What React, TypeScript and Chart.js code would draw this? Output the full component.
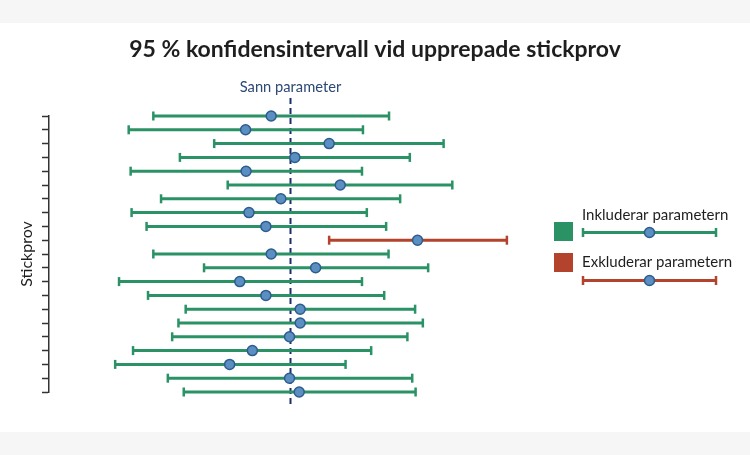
import React, { useEffect, useRef } from 'react';
import { Chart, registerables } from 'chart.js';

Chart.register(...registerables);

const TITLE = '95 % konfidensintervall vid upprepade stickprov';
const Y_TITLE = 'Stickprov';
const TRUE_LABEL = 'Sann parameter';
const LEGEND_LABELS = ['Inkluderar parametern', 'Exkluderar parametern'];
const TRUE_PARAM = 50;
const SAMPLES = [1, 2, 3, 4, 5, 6, 7, 8, 9, 10, 11, 12, 13, 14, 15, 16, 17, 18, 19, 20, 21];
const LOWER = [21.6, 16.5, 34.2, 27.1, 16.9, 37.0, 23.2, 17.1, 20.2, 58.0, 21.6, 32.1, 14.5, 20.5, 28.3, 26.8, 25.5, 17.4, 13.7, 24.6, 27.9];
const UPPER = [70.4, 65.0, 81.7, 74.7, 64.8, 83.5, 72.7, 65.8, 69.8, 94.8, 70.3, 78.5, 64.8, 69.4, 75.8, 77.4, 74.2, 66.7, 61.4, 75.2, 75.9];
const ESTIMATE = [46.0, 40.7, 58.0, 50.9, 40.8, 60.3, 48.0, 41.4, 44.9, 76.3, 46.0, 55.2, 39.5, 44.9, 52.0, 52.0, 49.8, 42.1, 37.4, 49.8, 51.8];

const GREEN = '#2a9264';
const RED = '#b3432c';
const POINT_FILL = '#5b8ec1';
const POINT_BORDER = '#2d5d8e';
const NAVY = '#1c2f66';
const TEXT = '#1e1e1e';
const FONT = 'Lato, "Open Sans", sans-serif';

export default function App() {
  const ref = useRef<HTMLCanvasElement | null>(null);

  useEffect(() => {
    if (!ref.current) return;

    const intervalSets = SAMPLES.map((s, i) => {
      const inside = LOWER[i] <= TRUE_PARAM && TRUE_PARAM <= UPPER[i];
      const c = inside ? GREEN : RED;
      return {
        type: 'line' as const,
        data: [
          { x: LOWER[i], y: s },
          { x: UPPER[i], y: s },
        ],
        borderColor: c,
        borderWidth: 3,
        pointStyle: 'line',
        pointRotation: 90,
        pointRadius: 4.5,
        pointBorderWidth: 2.5,
        pointBorderColor: c,
        pointBackgroundColor: c,
        clip: false,
        order: 2,
      };
    });

    const pointSet = {
      type: 'scatter' as const,
      data: SAMPLES.map((s, i) => ({ x: ESTIMATE[i], y: s })),
      pointRadius: 5,
      pointBackgroundColor: POINT_FILL,
      pointBorderColor: POINT_BORDER,
      pointBorderWidth: 1.5,
      clip: false,
      order: 0,
    };

    const overlay = {
      id: 'overlay',
      beforeDatasetsDraw(chart: any) {
        const { ctx, chartArea, scales } = chart;
        const x = scales.x.getPixelForValue(TRUE_PARAM);
        ctx.save();
        ctx.strokeStyle = NAVY;
        ctx.lineWidth = 2;
        ctx.setLineDash([6, 4]);
        ctx.beginPath();
        ctx.moveTo(x, chartArea.top - 18);
        ctx.lineTo(x, chartArea.bottom + 16);
        ctx.stroke();
        ctx.restore();
        ctx.save();
        ctx.fillStyle = '#2b4877';
        ctx.font = `14.7px ${FONT}`;
        ctx.textAlign = 'center';
        ctx.textBaseline = 'middle';
        ctx.fillText(TRUE_LABEL, x, chartArea.top - 29);
        ctx.restore();
      },
      afterDraw(chart: any) {
        const { ctx, chartArea } = chart;
        const colors = [GREEN, RED];
        const base = chartArea.right + 22;
        colors.forEach((c, k) => {
          const top = 199 + k * 31;
          ctx.save();
          ctx.fillStyle = c;
          ctx.fillRect(base, top, 19, 19);
          ctx.fillStyle = TEXT;
          ctx.font = `15px ${FONT}`;
          ctx.textAlign = 'left';
          ctx.textBaseline = 'middle';
          ctx.fillText(LEGEND_LABELS[k], base + 28, top - 7 + k * 16);
          const ly = top + 10.5 + k * 17;
          const x0 = base + 29;
          const x1 = base + 162;
          ctx.strokeStyle = c;
          ctx.lineWidth = 3;
          ctx.beginPath();
          ctx.moveTo(x0, ly);
          ctx.lineTo(x1, ly);
          ctx.stroke();
          ctx.lineWidth = 2.5;
          ctx.beginPath();
          ctx.moveTo(x0, ly - 4.5);
          ctx.lineTo(x0, ly + 4.5);
          ctx.moveTo(x1, ly - 4.5);
          ctx.lineTo(x1, ly + 4.5);
          ctx.stroke();
          ctx.beginPath();
          ctx.arc((x0 + x1) / 2, ly, 5, 0, Math.PI * 2);
          ctx.fillStyle = POINT_FILL;
          ctx.fill();
          ctx.lineWidth = 1.5;
          ctx.strokeStyle = POINT_BORDER;
          ctx.stroke();
          ctx.restore();
        });
      },
    };

    const chart = new Chart(ref.current, {
      type: 'scatter',
      data: { datasets: [pointSet, ...intervalSets] as any },
      options: {
        animation: false,
        responsive: false,
        events: [],
        layout: { padding: { left: 0, right: 0, top: 0, bottom: 40 } },
        plugins: {
          legend: { display: false },
          tooltip: { enabled: false },
          title: {
            display: true,
            text: TITLE,
            color: TEXT,
            font: { family: FONT, size: 23, weight: 'bold' as any },
            padding: { top: 13.2, bottom: 52.2 },
          },
        },
        scales: {
          x: {
            type: 'linear',
            display: false,
            min: 0,
            max: 100,
          },
          y: {
            type: 'linear',
            min: 1,
            max: 21,
            reverse: true,
            afterFit(scale: any) {
              scale.width = 49;
            },
            ticks: { display: false, stepSize: 1 },
            grid: {
              drawOnChartArea: false,
              drawTicks: true,
              tickLength: 7,
              tickWidth: 1.5,
              tickColor: '#333333',
            },
            border: { display: true, color: '#333333', width: 1.5 },
            title: {
              display: true,
              text: Y_TITLE,
              color: TEXT,
              font: { family: FONT, size: 16 },
              padding: { top: 17, bottom: 0 },
            },
          },
          legendSpace: {
            type: 'linear',
            position: 'right',
            display: true,
            min: 0,
            max: 1,
            afterFit(scale: any) {
              scale.width = 218;
            },
            ticks: { display: false },
            grid: { display: false, drawTicks: false },
            border: { display: false },
          },
        },
      },
      plugins: [overlay],
    });

    return () => chart.destroy();
  }, []);

  return (
    <div style={{ position: 'fixed', left: 0, top: 0, width: 750, height: 455, background: '#f6f6f6' }}>
      <div style={{ position: 'absolute', left: 0, top: 23, width: 750, height: 409, background: '#ffffff' }}>
        <canvas ref={ref} width={750} height={409} style={{ display: 'block' }} />
      </div>
    </div>
  );
}
